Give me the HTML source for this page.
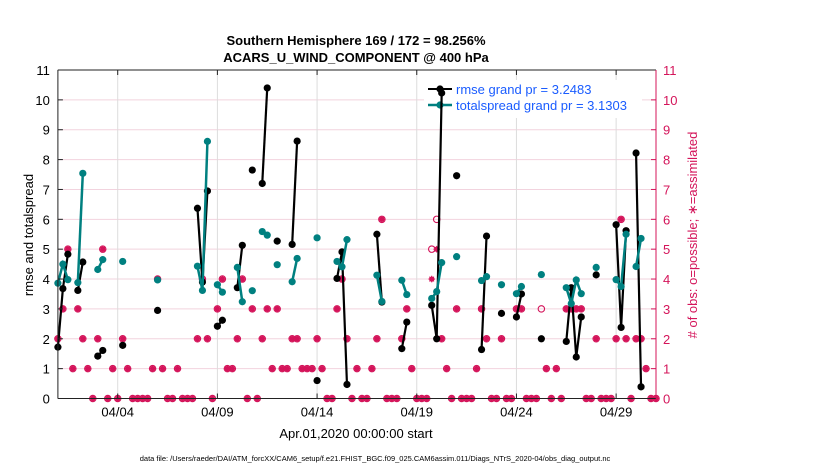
<!DOCTYPE html>
<html><head><meta charset="utf-8"><style>
body{margin:0;background:#fff;width:830px;height:470px;overflow:hidden;font-family:"Liberation Sans",sans-serif}
svg text{font-family:"Liberation Sans",sans-serif}
</style></head><body>
<svg id="chart" width="830" height="470" xmlns="http://www.w3.org/2000/svg">
<text x="356" y="45" font-size="13" font-weight="bold" text-anchor="middle">Southern Hemisphere 169 / 172 = 98.256%</text>
<text x="356" y="62" font-size="13" font-weight="bold" text-anchor="middle">ACARS_U_WIND_COMPONENT @ 400 hPa</text>
<g id="grid"></g>
<g>
<rect x="424" y="80" width="218" height="38" fill="#fff"/>
<line x1="428" y1="89" x2="452" y2="89" stroke="#000" stroke-width="2"/>
<circle cx="440" cy="89" r="3.6" fill="#000"/>
<text x="456" y="94" font-size="13" fill="#1a5cff">rmse grand pr = 3.2483</text>
<line x1="428" y1="105" x2="452" y2="105" stroke="#008080" stroke-width="2.5"/>
<circle cx="440" cy="105" r="3.6" fill="#008080"/>
<text x="456" y="110" font-size="13" fill="#1a5cff">totalspread grand pr = 3.1303</text>
</g>
<g id="obs"></g>
<g id="series"></g>
<g id="axes"></g>
<text transform="translate(33,235) rotate(-90)" font-size="13" text-anchor="middle">rmse and totalspread</text>
<text transform="translate(697,235) rotate(-90)" font-size="13" fill="#d4145a" text-anchor="middle"># of obs: o=possible; ∗=assimilated</text>
<text x="356" y="438" font-size="13" text-anchor="middle">Apr.01,2020 00:00:00 start</text>
<text x="375" y="461" font-size="7.5" text-anchor="middle">data file: /Users/raeder/DAI/ATM_forcXX/CAM6_setup/f.e21.FHIST_BGC.f09_025.CAM6assim.011/Diags_NTrS_2020-04/obs_diag_output.nc</text>
</svg>
<script>
const rmseIdx=[0,1,2,4,5,8,9,13,20,28,29,30,32,33,36,37,39,41,42,44,47,48,52,56,57,58,64,65,69,70,75,76,77,80,85,86,89,92,93,97,102,103,104,105,108,112,113,114,116,117];
const rmseVal=[1.72,3.68,4.83,3.62,4.57,1.42,1.61,1.78,2.95,6.37,3.9,6.95,2.42,2.62,3.71,5.13,7.65,7.2,10.4,5.27,5.16,8.62,0.6,4.02,4.91,0.47,5.5,3.23,1.67,2.56,3.12,2.0,10.23,7.46,1.64,5.44,2.85,2.73,3.5,2.0,1.91,3.71,1.39,2.73,4.14,5.82,2.38,5.62,8.22,0.39];
const spreadVal=[3.86,4.5,3.98,3.88,7.54,4.32,4.65,4.59,3.97,4.43,3.62,8.61,3.81,3.56,4.39,3.24,3.61,5.59,5.47,4.48,3.91,4.69,5.38,4.59,4.41,5.32,4.13,3.25,3.96,3.48,3.35,3.58,4.55,4.75,3.95,4.08,3.81,3.51,3.75,4.15,3.71,3.18,3.97,3.51,4.39,3.98,3.75,5.5,4.42,5.36];
const obsAssim=[2,3,5,1,3,2,1,0,2,5,0,1,0,2,1,0,0,0,0,1,4,1,0,0,1,0,0,0,2,4,2,0,3,4,1,1,2,4,0,3,0,2,3,1,3,1,1,2,2,1,1,1,2,1,0,0,3,4,2,0,1,0,0,1,2,6,0,0,0,2,3,1,0,0,0,4,5,2,1,0,3,0,0,0,1,3,2,0,0,2,0,0,3,3,0,0,0,2,1,0,1,0,3,3,3,3,0,0,2,0,0,0,2,6,2,0,2,2,1,0,0];
const obsPossible=obsAssim.map((v,i)=>i===75?5:i===76?6:i===97?3:v);
const yTicks=[0,1,2,3,4,5,6,7,8,9,10,11];
const xTickDays=[3,8,13,18,23,28];
const xTickLabels=["04/04","04/09","04/14","04/19","04/24","04/29"];

const NS="http://www.w3.org/2000/svg";
const L=57.9,R=656,T=70,B=398.5,DAYS=30,YMAX=11;
const xDay=d=>L+d*(R-L)/DAYS;
const xIdx=i=>xDay(i/4);
const y=v=>B-v*(B-T)/YMAX;
function mk(tag,attrs,parent){const e=document.createElementNS(NS,tag);for(const k in attrs)e.setAttribute(k,attrs[k]);parent.appendChild(e);return e;}
const grid=document.getElementById('grid'),axes=document.getElementById('axes'),series=document.getElementById('series'),obs=document.getElementById('obs');

yTicks.forEach(t=>{
  const g=mk('line',{x1:L,x2:R,y1:y(t),y2:y(t),stroke:'#f2d3de','stroke-width':1},grid);
  
  
  const lt=mk('text',{x:L-8,y:y(t)+5,'font-size':13,'text-anchor':'end'},axes);lt.textContent=t;
  
  
  const rt=mk('text',{x:R+7,y:y(t)+5,'font-size':13,fill:'#d4145a'},axes);rt.textContent=t;
  
  
  mk('line',{x1:L,x2:L+5,y1:y(t),y2:y(t),stroke:'#222'},axes);
  mk('line',{x1:R-5,x2:R,y1:y(t),y2:y(t),stroke:'#d4145a'},axes);
});
xTickDays.forEach((d,k)=>{
  const g=mk('line',{x1:xDay(d),x2:xDay(d),y1:T,y2:B,stroke:'#dcdcdc','stroke-width':1},grid);
  
  
  mk('line',{x1:xDay(d),x2:xDay(d),y1:B,y2:B-5,stroke:'#222'},axes);
  mk('line',{x1:xDay(d),x2:xDay(d),y1:T,y2:T+5,stroke:'#222'},axes);
  const t=mk('text',{x:xDay(d),y:B+18,'font-size':13,'text-anchor':'middle'},axes);t.textContent=xTickLabels[k];
  
  
});
mk('line',{x1:L,x2:L,y1:T,y2:B,stroke:'#222'},axes);
mk('line',{x1:L,x2:R,y1:T,y2:T,stroke:'#222'},axes);
mk('line',{x1:L,x2:R,y1:B,y2:B,stroke:'#222'},axes);
mk('line',{x1:R,x2:R,y1:T,y2:B,stroke:'#d4145a'},axes);

obsPossible.forEach((v,i)=>{
  const c=mk('circle',{cx:xIdx(i),cy:y(v),r:3.2,fill:'none',stroke:'#d4145a','stroke-width':1.1},obs);
  
  
});
obsAssim.forEach((v,i)=>{
  const g=mk('g',{},obs);
  
  
  const cx=xIdx(i),cy=y(v),r=3.3;
  mk('circle',{cx:cx,cy:cy,r:2.6,fill:'#d4145a'},g);
  [[r,0],[0,r],[r*0.7,r*0.7],[r*0.7,-r*0.7]].forEach(([dx,dy])=>mk('line',{x1:cx-dx,y1:cy-dy,x2:cx+dx,y2:cy+dy,stroke:'#d4145a','stroke-width':1.1},g));
});

function drawSeries(vals,color,w,name){
  let seg=[];
  const flush=()=>{if(seg.length>1){const p=mk('polyline',{points:seg.join(' '),fill:'none',stroke:color,'stroke-width':w},series);
    
    }seg=[];};
  rmseIdx.forEach((ix,k)=>{
    if(k>0&&ix-rmseIdx[k-1]>1)flush();
    seg.push(xIdx(ix)+','+y(vals[k]));
  });
  flush();
  rmseIdx.forEach((ix,k)=>{
    const c=mk('circle',{cx:xIdx(ix),cy:y(vals[k]),r:3.6,fill:color},series);
    
    
  });
}
drawSeries(rmseVal,'#000',2.2,'rmse');
drawSeries(spreadVal,'#008080',2.5,'totalspread');
</script>
</body></html>
